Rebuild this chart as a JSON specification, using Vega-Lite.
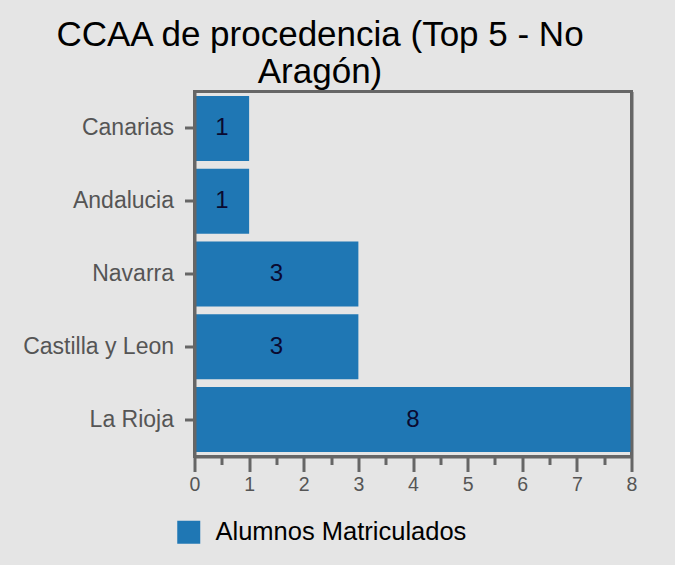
{
  "$schema": "https://vega.github.io/schema/vega-lite/v6.json",
  "autosize": "none",
  "width": 437,
  "height": 365,
  "padding": {"left": 194.5, "top": 91.5, "right": 43.5, "bottom": 108.5},
  "background": "#e5e5e5",
  "config": {
    "font": "Liberation Sans",
    "view": {"stroke": "#666666", "strokeWidth": 3, "fill": "#e5e5e5"}
  },
  "title": {
    "text": ["CCAA de procedencia (Top 5 - No", "Aragón)"],
    "fontSize": 35,
    "fontWeight": "normal",
    "font": "Liberation Sans",
    "color": "#000000",
    "anchor": "middle",
    "frame": "group",
    "dx": -93,
    "offset": 2,
    "lineHeight": 37
  },
  "data": {
    "values": [
      {"ccaa": "Canarias", "alumnos": 1, "serie": "Alumnos Matriculados"},
      {"ccaa": "Andalucia", "alumnos": 1, "serie": "Alumnos Matriculados"},
      {"ccaa": "Navarra", "alumnos": 3, "serie": "Alumnos Matriculados"},
      {"ccaa": "Castilla y Leon", "alumnos": 3, "serie": "Alumnos Matriculados"},
      {"ccaa": "La Rioja", "alumnos": 8, "serie": "Alumnos Matriculados"}
    ]
  },
  "resolve": {"scale": {"x": "independent"}, "axis": {"x": "independent", "y": "independent"}},
  "layer": [
    {
      "mark": {"type": "bar"},
      "encoding": {
        "y": {
          "field": "ccaa",
          "type": "nominal",
          "sort": null,
          "scale": {"paddingInner": 0.107, "paddingOuter": 0.062},
          "axis": {
            "title": null,
            "orient": "left",
            "domain": true,
            "domainColor": "#666666",
            "domainWidth": 3,
            "ticks": true,
            "tickColor": "#666666",
            "tickWidth": 3,
            "tickSize": 10,
            "labelFontSize": 23,
            "labelColor": "#555555",
            "labelPadding": 11,
            "zindex": 1
          }
        },
        "x": {
          "field": "alumnos",
          "type": "quantitative",
          "scale": {"domain": [0, 8], "nice": false},
          "axis": {
            "title": null,
            "orient": "bottom",
            "grid": false,
            "values": [0, 1, 2, 3, 4, 5, 6, 7, 8],
            "domain": true,
            "domainColor": "#666666",
            "domainWidth": 3,
            "tickColor": "#666666",
            "tickWidth": 3,
            "tickSize": 15,
            "labelFontSize": 19.5,
            "labelColor": "#555555",
            "labelPadding": 4,
            "labelFlush": false,
            "zindex": 1
          }
        },
        "color": {
          "field": "serie",
          "type": "nominal",
          "scale": {"range": ["#1f77b4"]},
          "legend": {
            "title": null,
            "orient": "none",
            "legendX": -18.5,
            "legendY": 428,
            "padding": 0,
            "symbolType": "square",
            "symbolSize": 529,
            "symbolStrokeWidth": 0,
            "labelFontSize": 25.5,
            "labelColor": "#000000",
            "labelOffset": 14,
            "labelLimit": 0
          }
        }
      }
    },
    {
      "mark": {"type": "text", "fontSize": 24, "color": "#0a0a30", "font": "Liberation Sans"},
      "encoding": {
        "y": {
          "field": "ccaa",
          "type": "nominal",
          "sort": null,
          "axis": {
            "title": null,
            "orient": "right",
            "domain": true,
            "domainColor": "#666666",
            "domainWidth": 3,
            "ticks": false,
            "labels": false,
            "zindex": 1
          }
        },
        "x": {
          "field": "alumnos",
          "type": "quantitative",
          "scale": {"domain": [0, 16], "nice": false},
          "axis": {
            "title": null,
            "orient": "bottom",
            "grid": false,
            "values": [1, 3, 5, 7, 9, 11, 13, 15],
            "domain": false,
            "labels": false,
            "tickColor": "#666666",
            "tickWidth": 3,
            "tickSize": 8,
            "zindex": 1
          }
        },
        "text": {"field": "alumnos", "type": "quantitative"}
      }
    }
  ]
}
